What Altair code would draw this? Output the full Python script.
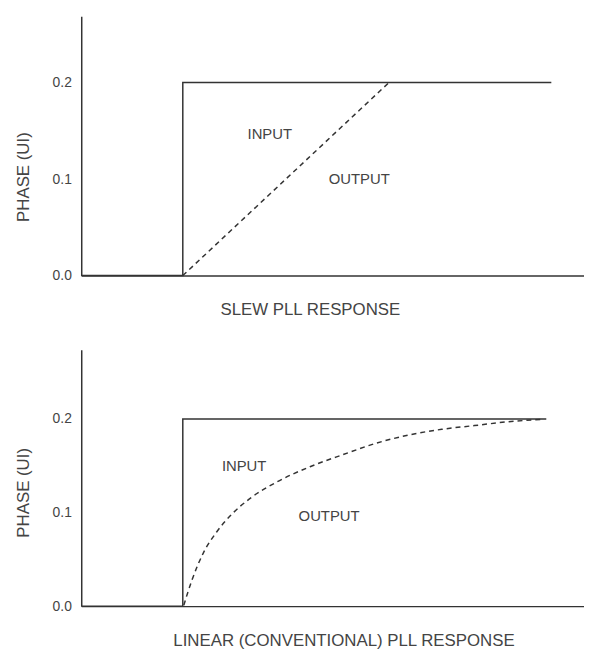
import altair as alt
import pandas as pd

# ---- data ----
top_input_x = [0.0, 2.02, 2.02, 9.35]
top_input_y = [0.0, 0.0, 0.2, 0.2]
top_output_x = [2.02, 6.12]
top_output_y = [0.0, 0.2]

bot_input_x = [0.0, 2.02, 2.02, 9.25]
bot_input_y = [0.0, 0.0, 0.2, 0.2]
bot_output_x = [2.04, 2.20, 2.43, 2.69, 2.99, 3.38, 3.90, 4.55, 5.21, 5.86, 6.52, 7.17, 7.82, 8.48, 9.20]
bot_output_y = [0.001, 0.0275, 0.057, 0.079, 0.098, 0.116, 0.133, 0.149, 0.162, 0.174, 0.183, 0.189, 0.193, 0.197, 0.1997]

top_label_text = ["INPUT", "OUTPUT"]
top_label_x = [3.75, 5.53]
top_label_y = [0.1467, 0.0995]
bot_label_text = ["INPUT", "OUTPUT"]
bot_label_x = [3.24, 4.93]
bot_label_y = [0.150, 0.0968]

y_ticks = [0.0, 0.1, 0.2]
titles = ["SLEW PLL RESPONSE", "LINEAR (CONVENTIONAL) PLL RESPONSE"]

FONT = "Liberation Sans"
INK = "#333333"
TXT = "#444444"


def seq(xs, ys):
    return pd.DataFrame({"x": xs, "y": ys, "i": list(range(len(xs)))})


def panel(in_x, in_y, out_x, out_y, lx, ly, lt, title, height, ymax, title_y, title_x, title_pad, interp):
    xs = alt.Scale(domain=[0, 10], nice=False, zero=False)
    ys = alt.Scale(domain=[0, ymax], nice=False, zero=False)
    xaxis = alt.Axis(title=title, labels=False, ticks=False, grid=False, domainColor=INK,
                     domainWidth=1.5, titleFont=FONT, titleFontSize=17, titleFontWeight="normal",
                     titleColor=TXT, titlePadding=title_pad, titleX=title_x)
    yaxis = alt.Axis(title="PHASE (UI)", values=y_ticks, format=".1f", ticks=False, grid=False,
                     domainColor=INK, domainWidth=1.5, labelFont=FONT, labelFontSize=14,
                     labelColor=TXT, labelPadding=10, titleFont=FONT, titleFontSize=17,
                     titleFontWeight="normal", titleColor=TXT, titlePadding=20, titleY=title_y)
    inp = alt.Chart(seq(in_x, in_y)).mark_line(color=INK, strokeWidth=1.5).encode(
        x=alt.X("x:Q", scale=xs, axis=xaxis),
        y=alt.Y("y:Q", scale=ys, axis=yaxis),
        order="i:Q",
    )
    out = alt.Chart(seq(out_x, out_y)).mark_line(
        color=INK, strokeWidth=1.5, strokeDash=[5, 4], interpolate=interp
    ).encode(
        x=alt.X("x:Q", scale=xs),
        y=alt.Y("y:Q", scale=ys),
        order="i:Q",
    )
    lab = alt.Chart(pd.DataFrame({"x": lx, "y": ly, "t": lt})).mark_text(
        font=FONT, fontSize=15, color=TXT, align="center", baseline="middle"
    ).encode(x=alt.X("x:Q", scale=xs), y=alt.Y("y:Q", scale=ys), text="t:N")
    return alt.layer(inp, out, lab).properties(width=508, height=height)


top = panel(top_input_x, top_input_y, top_output_x, top_output_y,
            top_label_x, top_label_y, top_label_text, titles[0], 262, 0.2687, 162, 231, 26, "linear")
bot = panel(bot_input_x, bot_input_y, bot_output_x, bot_output_y,
            bot_label_x, bot_label_y, bot_label_text, titles[1], 259, 0.274, 144, 265, 27, "monotone")

chart = alt.vconcat(top, bot, spacing=33).properties(
    padding={"left": 6, "top": 5, "right": 0, "bottom": 0}
).configure(background="white").configure_view(stroke=None)

chart.save("out.html", embed_options={"renderer": "svg", "actions": False})
